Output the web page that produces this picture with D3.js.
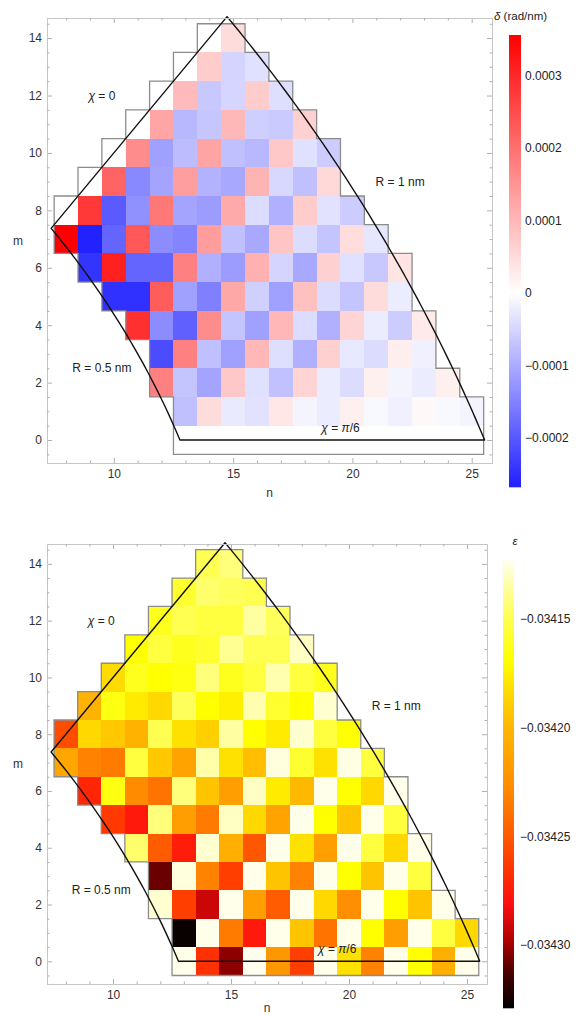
<!DOCTYPE html>
<html>
<head>
<meta charset="utf-8">
<title>delta and epsilon maps</title>
<script src="https://cdn.jsdelivr.net/npm/d3@7"></script>
<style>
  body { margin: 0; background: #fff; }
  svg { display: block; font-family: "Liberation Sans", Arial, sans-serif; }
</style>
</head>
<body>
<script>
// --- data ------------------------------------------------------------
// one row per chiral index m; each row starts at nStart[i] and runs in n
const mRows  = [0, 1, 2, 3, 4, 5, 6, 7, 8, 9, 10, 11, 12, 13, 14];
const nStart = [13, 13, 12, 12, 11, 10, 9, 8, 8, 9, 10, 11, 12, 13, 14];

// delta, in units of 1e-4 rad/nm
const deltaRows = [
  [0, 0, 0, 0, 0, 0, 0, 0, 0, 0, 0, 0, 0],
  [-0.76, 0.49, -0.25, -0.35, 0.33, -0.13, -0.23, 0.21, -0.08, -0.18, 0.10, -0.08, -0.13],
  [1.77, -0.71, -1.09, 0.77, -0.37, -0.75, 0.60, -0.23, -0.42, 0.21, -0.13, -0.23, 0.21],
  [-2.15, 1.77, -0.76, -1.14, 1.00, -0.40, -0.95, 0.66, -0.28, -0.42, 0.24, -0.18],
  [2.89, -1.38, -1.91, 1.61, -0.71, -1.14, 1.00, -0.42, -0.95, 0.60, -0.23, -0.61, 0.29],
  [-2.49, -2.49, 2.28, -1.14, -1.53, 1.21, -0.56, -1.14, 0.88, -0.42, -0.71, 0.49, -0.23],
  [-2.44, 3.11, -1.86, -1.86, 1.77, -0.95, -1.19, 1.10, -0.52, -1.05, 0.66, -0.37, -0.66, 0.38],
  [3.56, -2.65, -1.86, 2.33, -1.38, -1.48, 1.38, -0.76, -1.05, 0.82, -0.42, -0.71, 0.47, -0.30],
  [0, 2.78, -1.98, -1.33, 1.88, -1.09, -1.19, 1.19, -0.42, -0.95, 0.71, -0.35, -0.61],
  [0, 2.16, -1.43, -1.09, 1.35, -0.92, -1.05, 1.05, -0.47, -0.76, 0.54],
  [0, 1.61, -1.14, -0.81, 1.27, -0.76, -0.85, 0.77, -0.37, -0.61],
  [0, 1.26, -0.85, -0.69, 0.99, -0.59, -0.64, 0.66],
  [0, 0.95, -0.66, -0.50, 0.71, -0.40],
  [0, 0.71, -0.52, -0.37],
  [0, 0.49]
];

// epsilon
const epsRows = [
  [-0.034124, -0.034267, -0.034303, -0.034123, -0.034220, -0.034261, -0.034124, -0.034181, -0.034232, -0.034124, -0.034169, -0.034205, -0.034124],
  [-0.034327, -0.034124, -0.034235, -0.034277, -0.034124, -0.034194, -0.034238, -0.034124, -0.034169, -0.034216, -0.034124, -0.034154, -0.034185],
  [-0.034128, -0.034261, -0.034292, -0.034124, -0.034216, -0.034249, -0.034124, -0.034185, -0.034226, -0.034124, -0.034169, -0.034194, -0.034124],
  [-0.034308, -0.034126, -0.034232, -0.034261, -0.034124, -0.034194, -0.034232, -0.034124, -0.034169, -0.034194, -0.034124, -0.034154],
  [-0.034145, -0.034249, -0.034275, -0.034128, -0.034205, -0.034251, -0.034124, -0.034181, -0.034216, -0.034124, -0.034154, -0.034185, -0.034124],
  [-0.034263, -0.034277, -0.034142, -0.034216, -0.034235, -0.034130, -0.034185, -0.034213, -0.034124, -0.034169, -0.034194, -0.034124, -0.034154],
  [-0.034271, -0.034165, -0.034228, -0.034238, -0.034142, -0.034194, -0.034216, -0.034130, -0.034177, -0.034199, -0.034124, -0.034169, -0.034185, -0.034124],
  [-0.034210, -0.034232, -0.034235, -0.034154, -0.034192, -0.034213, -0.034134, -0.034181, -0.034196, -0.034126, -0.034158, -0.034181, -0.034125, -0.034154],
  [-0.034255, -0.034185, -0.034192, -0.034203, -0.034150, -0.034181, -0.034189, -0.034135, -0.034169, -0.034177, -0.034128, -0.034154, -0.034169],
  [-0.034203, -0.034165, -0.034177, -0.034185, -0.034148, -0.034169, -0.034175, -0.034133, -0.034158, -0.034169, -0.034128],
  [-0.034183, -0.034162, -0.034169, -0.034165, -0.034142, -0.034162, -0.034154, -0.034133, -0.034154, -0.034162],
  [-0.034169, -0.034154, -0.034162, -0.034158, -0.034138, -0.034150, -0.034150, -0.034130],
  [-0.034162, -0.034150, -0.034154, -0.034154, -0.034135, -0.034148],
  [-0.034158, -0.034145, -0.034148, -0.034150],
  [-0.034150, -0.034142]
];

const nTicks = [10, 15, 20, 25];
const mTicks = [0, 2, 4, 6, 8, 10, 12, 14];
const deltaRange = [-2.68, 3.56];          // colour bar ends, 1e-4 rad/nm
const deltaTicks = [-2, -1, 0, 1, 2, 3];
const epsRange = [-0.034329, -0.034123];
const epsTicks = [-0.03430, -0.03425, -0.03420, -0.03415];
const radii = [0.5, 1];                     // nm, the two R boundaries
const latticeA = 0.246;                     // graphene lattice constant, nm

// --- styles ---------------------------------------------------------
const heatStops = [
  [0, "#000000"], [0.08, "#4a0000"], [0.145, "#a80000"], [0.234, "#ff1010"],
  [0.308, "#ff3300"], [0.386, "#ff5a00"], [0.493, "#ff8c00"], [0.63, "#ffb800"],
  [0.717, "#ffe000"], [0.777, "#ffff00"], [0.868, "#ffff50"], [0.94, "#ffffa0"],
  [1, "#fffff0"]
];

const deltaColor = d3.scaleLinear()
  .domain([deltaRange[0], 0, deltaRange[1]])
  .range(["#2020ff", "#ffffff", "#ff0000"])
  .clamp(true);

const epsColor = d3.scaleLinear()
  .domain(heatStops.map(s => epsRange[0] + s[0] * (epsRange[1] - epsRange[0])))
  .range(heatStops.map(s => s[1]))
  .clamp(true);

const svg = d3.select("body").append("svg")
  .attr("width", 580)
  .attr("height", 1016);

// points on the curve n^2 + nm + m^2 = C for a tube of radius R
function rimPoints(R) {
  const C = Math.pow(2 * Math.PI * R / latticeA, 2);
  const mMax = Math.sqrt(C / 3);
  return d3.range(0, 61).map(i => {
    const m = mMax * i / 60;
    return [(-m + Math.sqrt(4 * C - 3 * m * m)) / 2, m];
  });
}

function styleAxis(sel, showText) {
  sel.attr("font-family", null).attr("font-size", null);
  sel.select(".domain").attr("stroke", "#c6c6c6");
  sel.selectAll(".tick line").attr("stroke", "#b0b0b0");
  sel.selectAll(".tick text")
    .attr("fill", "#333")
    .style("font-size", "12px")
    .style("display", showText ? null : "none");
}

function drawPanel(p) {
  const x = d3.scaleLinear().domain([7.2, 25.85]).range([p.left, p.right]);
  const y = d3.scaleLinear().domain([-0.8, 14.7]).range([p.bottom, p.top]);
  const g = svg.append("g");

  const cells = [];
  p.rows.forEach((row, i) => {
    row.forEach((v, j) => cells.push({ n: nStart[i] + j, m: mRows[i], v: v }));
  });

  // heat map cells
  g.append("g").selectAll("rect")
    .data(cells)
    .join("rect")
    .attr("x", d => x(d.n - 0.5))
    .attr("y", d => y(d.m + 0.5))
    .attr("width", x(1) - x(0))
    .attr("height", y(0) - y(1))
    .attr("fill", d => p.color(d.v))
    .attr("shape-rendering", "crispEdges");

  // grey stepped outline around the cells
  const has = new Set(cells.map(d => d.n + "," + d.m));
  const outline = d3.path();
  cells.forEach(d => {
    const x0 = x(d.n - 0.5), x1 = x(d.n + 0.5);
    const y0 = y(d.m + 0.5), y1 = y(d.m - 0.5);
    if (!has.has(d.n + "," + (d.m + 1))) { outline.moveTo(x0, y0); outline.lineTo(x1, y0); }
    if (!has.has(d.n + "," + (d.m - 1))) { outline.moveTo(x0, y1); outline.lineTo(x1, y1); }
    if (!has.has((d.n - 1) + "," + d.m)) { outline.moveTo(x0, y0); outline.lineTo(x0, y1); }
    if (!has.has((d.n + 1) + "," + d.m)) { outline.moveTo(x1, y0); outline.lineTo(x1, y1); }
  });
  g.append("path")
    .attr("d", outline.toString())
    .attr("fill", "none")
    .attr("stroke", "#8c8c8c")
    .attr("stroke-width", 1.3)
    .attr("stroke-linecap", "square");

  // black boundary: R = 0.5 nm, chi = 0, R = 1 nm, chi = pi/6
  const line = d3.line().x(d => x(d[0])).y(d => y(d[1]));
  const ring = rimPoints(radii[0]).concat(rimPoints(radii[1]).reverse());
  g.append("path")
    .attr("d", line(ring) + "Z")
    .attr("fill", "none")
    .attr("stroke", "#111")
    .attr("stroke-width", 1.4)
    .attr("stroke-linejoin", "round");

  // frame with inward ticks on all four sides
  const minorN = d3.range(8, 26).filter(v => v % 5 !== 0);
  const minorM = d3.range(-0.5, 14.6, 0.5).filter(v => v % 2 !== 0);

  g.append("g").attr("transform", `translate(0,${p.bottom})`)
    .call(d3.axisBottom(x).tickValues(nTicks).tickSize(-5).tickSizeOuter(0).tickPadding(6))
    .call(s => styleAxis(s, true));
  g.append("g").attr("transform", `translate(0,${p.bottom})`)
    .call(d3.axisBottom(x).tickValues(minorN).tickSize(-2.5).tickSizeOuter(0).tickFormat(""))
    .call(s => styleAxis(s, false));
  g.append("g").attr("transform", `translate(0,${p.top})`)
    .call(d3.axisTop(x).tickValues(nTicks).tickSize(-5).tickSizeOuter(0))
    .call(s => styleAxis(s, false));
  g.append("g").attr("transform", `translate(0,${p.top})`)
    .call(d3.axisTop(x).tickValues(minorN).tickSize(-2.5).tickSizeOuter(0))
    .call(s => styleAxis(s, false));
  g.append("g").attr("transform", `translate(${p.left},0)`)
    .call(d3.axisLeft(y).tickValues(mTicks).tickSize(-5).tickSizeOuter(0).tickPadding(5))
    .call(s => styleAxis(s, true));
  g.append("g").attr("transform", `translate(${p.left},0)`)
    .call(d3.axisLeft(y).tickValues(minorM).tickSize(-2.5).tickSizeOuter(0))
    .call(s => styleAxis(s, false));
  g.append("g").attr("transform", `translate(${p.right},0)`)
    .call(d3.axisRight(y).tickValues(mTicks).tickSize(-5).tickSizeOuter(0))
    .call(s => styleAxis(s, false));
  g.append("g").attr("transform", `translate(${p.right},0)`)
    .call(d3.axisRight(y).tickValues(minorM).tickSize(-2.5).tickSizeOuter(0))
    .call(s => styleAxis(s, false));

  // axis names
  g.append("text")
    .attr("x", (p.left + p.right) / 2)
    .attr("y", p.bottom + p.nameGap)
    .attr("text-anchor", "middle")
    .attr("font-size", 12)
    .attr("fill", "#333")
    .text("n");
  g.append("text")
    .attr("x", 18)
    .attr("y", (p.top + p.bottom) / 2 + 4)
    .attr("text-anchor", "middle")
    .attr("font-size", 12)
    .attr("fill", "#333")
    .text("m");

  // boundary labels
  const notes = [
    { n: 9.5, m: 12, parts: [["χ", true], [" = 0", false]] },
    { n: 22, m: 9, parts: [["R = 1 nm", false]] },
    { n: 9.5, m: 2.5, parts: [["R = 0.5 nm", false]] },
    { n: 19.5, m: 0.42, parts: [["χ", true], [" = ", false], ["π", true], ["/6", false]] }
  ];
  notes.forEach(t => {
    const txt = g.append("text")
      .attr("x", x(t.n))
      .attr("y", y(t.m) + 4)
      .attr("text-anchor", "middle")
      .attr("font-size", 12)
      .attr("fill", "#222");
    t.parts.forEach(pt => {
      txt.append("tspan")
        .attr("font-style", pt[1] ? "italic" : null)
        .text(pt[0]);
    });
  });

  // colour bar
  const cy = d3.scaleLinear().domain(p.barRange).range([p.barBottom, p.barTop]);
  g.append("g").selectAll("rect")
    .data(d3.range(p.barTop, p.barBottom, 1))
    .join("rect")
    .attr("x", p.barX)
    .attr("y", d => d)
    .attr("width", p.barW)
    .attr("height", 1.3)
    .attr("fill", d => p.color(cy.invert(d + 0.5)));

  g.append("g").attr("transform", `translate(${p.barX + p.barW},0)`)
    .call(d3.axisRight(cy).tickValues(p.barTicks).tickSize(0).tickPadding(p.barPad).tickFormat(p.barFormat))
    .call(s => {
      s.attr("font-family", null).attr("font-size", null);
      s.select(".domain").remove();
      s.selectAll(".tick text").attr("fill", "#222").style("font-size", "12px");
    });

  const title = g.append("text")
    .attr("x", p.titleX)
    .attr("y", p.titleY)
    .attr("text-anchor", p.titleAnchor)
    .attr("font-size", 11.5)
    .attr("fill", "#222");
  p.title.forEach(pt => {
    title.append("tspan").attr("font-style", pt[1] ? "italic" : null).text(pt[0]);
  });
}

drawPanel({
  rows: deltaRows, color: deltaColor,
  left: 47, right: 492, top: 18, bottom: 463, nameGap: 34,
  barX: 509, barW: 12, barTop: 35, barBottom: 487,
  barRange: deltaRange, barTicks: deltaTicks, barPad: 4,
  barFormat: v => v === 0 ? "0" : (v < 0 ? "\u2212" : "") + (Math.abs(v) * 1e-4).toFixed(4),
  title: [["δ", true], [" (rad/nm)", false]],
  titleX: 494, titleY: 20, titleAnchor: "start"
});

drawPanel({
  rows: epsRows, color: epsColor,
  left: 47, right: 487, top: 544, bottom: 984, nameGap: 28,
  barX: 503, barW: 11, barTop: 560, barBottom: 1008,
  barRange: epsRange, barTicks: epsTicks, barPad: 6,
  barFormat: v => "\u2212" + Math.abs(v).toFixed(5),
  title: [["ε", true]],
  titleX: 515, titleY: 545, titleAnchor: "middle"
});
</script>
</body>
</html>
